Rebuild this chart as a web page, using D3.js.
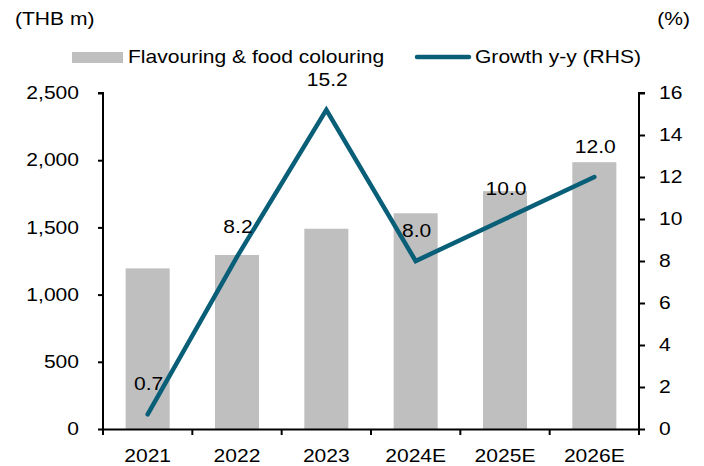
<!DOCTYPE html>
<html>
<head>
<meta charset="utf-8">
<script src="https://cdn.jsdelivr.net/npm/d3@7"></script>
<style>
  body { margin: 0; background: #fff; }
  text { font-family: "Liberation Sans", Arial, sans-serif; fill: #000; }
</style>
</head>
<body>
<script>
const width = 704, height = 466;

const years = ['2021', '2022', '2023', '2024E', '2025E', '2026E'];
const revenue = [1195, 1295, 1490, 1605, 1770, 1985];
const growth = [0.7, 8.2, 15.2, 8.0, 10.0, 12.0];
const leftTicks = [0, 500, 1000, 1500, 2000, 2500];
const rightTicks = [0, 2, 4, 6, 8, 10, 12, 14, 16];

const margin = { top: 93, right: 65, bottom: 37, left: 103 };
const plotW = width - margin.left - margin.right;
const plotH = height - margin.top - margin.bottom;
const lineColor = '#0a5f78';

const svg = d3.select('body').append('svg')
  .attr('width', width)
  .attr('height', height);

const g = svg.append('g').attr('transform', `translate(${margin.left},${margin.top})`);

const x = d3.scaleBand().domain(years).range([0, plotW]).paddingInner(0.507).paddingOuter(0.2535);
const xBand = d3.scaleBand().domain(years).range([0, plotW]);
const yL = d3.scaleLinear().domain([0, 2500]).range([plotH, 0]);
const yR = d3.scaleLinear().domain([0, 16]).range([plotH, 0]);

// bars
g.append('g').selectAll('rect')
  .data(years)
  .join('rect')
  .attr('x', d => x(d))
  .attr('width', x.bandwidth())
  .attr('y', (d, i) => yL(revenue[i]))
  .attr('height', (d, i) => plotH - yL(revenue[i]))
  .attr('fill', '#bfbfbf');

// growth line
const cx = d => xBand(d) + xBand.bandwidth() / 2;
const pts = years.map((y, i) => ({ year: y, v: growth[i] }));
g.append('path')
  .datum(pts)
  .attr('d', d3.line().x(d => cx(d.year)).y(d => yR(d.v)))
  .attr('fill', 'none')
  .attr('stroke', lineColor)
  .attr('stroke-width', 4.5)
  .attr('stroke-linejoin', 'miter')
  .attr('stroke-linecap', 'round');

// data labels
g.append('g').selectAll('text')
  .data(pts)
  .join('text')
  .attr('x', d => cx(d.year) + 1)
  .attr('y', d => yR(d.v) - 29)
  .attr('text-anchor', 'middle')
  .attr('dominant-baseline', 'middle')
  .attr('font-size', 18)
  .text(d => d.v.toFixed(1));

// axes
const axL = g.append('g')
  .call(d3.axisLeft(yL).tickValues(leftTicks).tickSize(5).tickPadding(19).tickFormat(d3.format(',')));
const axR = g.append('g')
  .attr('transform', `translate(${plotW},0)`)
  .call(d3.axisRight(yR).tickValues(rightTicks).tickSize(6).tickPadding(14));
const axB = g.append('g')
  .attr('transform', `translate(0,${plotH})`)
  .call(d3.axisBottom(xBand).tickSize(0).tickPadding(20));

// category boundary ticks
axB.selectAll('.edge').data(d3.range(years.length + 1)).join('line')
  .attr('class', 'edge')
  .attr('x1', i => i * xBand.step()).attr('x2', i => i * xBand.step())
  .attr('y1', 0).attr('y2', 6)
  .attr('stroke', '#000').attr('stroke-width', 2);

[axL, axR, axB].forEach(a => {
  a.select('.domain').attr('stroke', '#000').attr('stroke-width', 2);
  a.selectAll('.tick line').attr('stroke', '#000').attr('stroke-width', 2);
  a.selectAll('.tick text').attr('font-size', 18).attr('fill', '#000')
    .attr('font-family', '"Liberation Sans", Arial, sans-serif');
});
axL.select('.domain').attr('d', `M-5,0H0V${plotH}`);
axR.select('.domain').attr('d', `M6,0H0V${plotH}`);

// axis unit titles
svg.append('text').attr('x', 15).attr('y', 25).attr('font-size', 18).text('(THB m)');
svg.append('text').attr('x', 690).attr('y', 25).attr('font-size', 18).attr('text-anchor', 'end').text('(%)');

// legend
const leg = svg.append('g');
leg.append('rect').attr('x', 72).attr('y', 52).attr('width', 51).attr('height', 11).attr('fill', '#bfbfbf');
leg.append('text').attr('x', 128).attr('y', 63).attr('font-size', 18).text('Flavouring & food colouring');
leg.append('line').attr('x1', 417).attr('x2', 469).attr('y1', 57).attr('y2', 57)
  .attr('stroke', lineColor).attr('stroke-width', 4.5).attr('stroke-linecap', 'round');
leg.append('text').attr('x', 475).attr('y', 63).attr('font-size', 18).text('Growth y-y (RHS)');

// reference glyphs are wider than Arial at this height: stretch horizontally about each anchor
svg.selectAll('text').each(function () {
  const x0 = +(this.getAttribute('x') || 0);
  this.setAttribute('transform', `translate(${x0},0) scale(1.17,1) translate(${-x0},0)`);
});
</script>
</body>
</html>
